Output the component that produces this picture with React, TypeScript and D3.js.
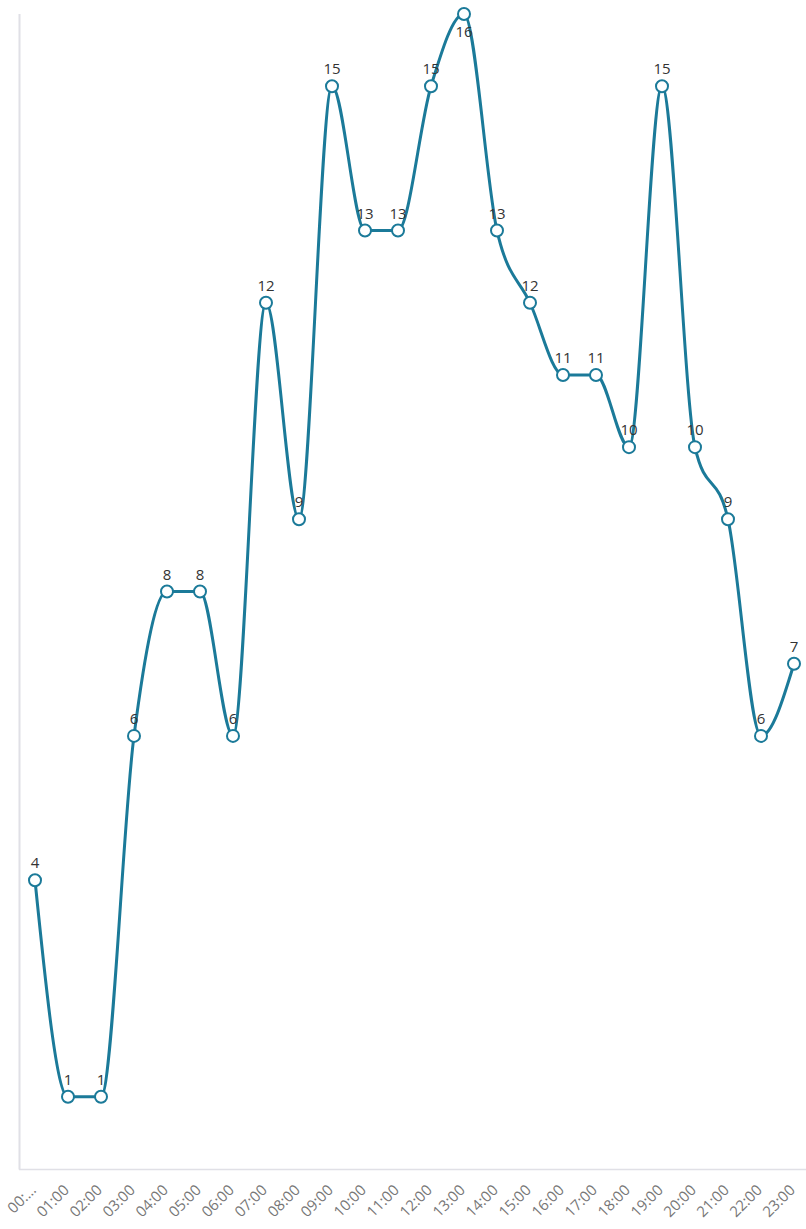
import React, { useEffect, useRef } from 'react';
import * as d3 from 'd3';

const hours = [
  '00:00', '01:00', '02:00', '03:00', '04:00', '05:00', '06:00', '07:00',
  '08:00', '09:00', '10:00', '11:00', '12:00', '13:00', '14:00', '15:00',
  '16:00', '17:00', '18:00', '19:00', '20:00', '21:00', '22:00', '23:00',
];
const tickLabels = ['00:…', ...hours.slice(1)];
const counts = [4, 1, 1, 6, 8, 8, 6, 12, 9, 15, 13, 13, 15, 16, 13, 12, 11, 11, 10, 15, 10, 9, 6, 7];

const WIDTH = 806;
const HEIGHT = 1229;
const LINE_COLOR = '#1b7a99';

const App: React.FC = () => {
  const svgRef = useRef<SVGSVGElement>(null);

  useEffect(() => {
    if (!svgRef.current) return;
    const svg = d3.select(svgRef.current);
    svg.selectAll('*').remove();

    const x = d3.scalePoint<string>().domain(hours).range([35, 794]);
    const y = d3.scaleLinear().domain([0, 16]).range([1169, 14]);

    // axes lines
    svg.append('line')
      .attr('x1', 19.5).attr('x2', 19.5)
      .attr('y1', 14).attr('y2', 1169.5)
      .attr('stroke', '#e0e0e6').attr('stroke-width', 2);
    svg.append('line')
      .attr('x1', 19).attr('x2', WIDTH)
      .attr('y1', 1169.5).attr('y2', 1169.5)
      .attr('stroke', '#e0e0e6').attr('stroke-width', 1.5);

    // tick labels
    svg.append('g')
      .selectAll('text')
      .data(hours)
      .join('text')
      .attr('transform', (d) => `translate(${x(d)! + 2},${1191}) rotate(-45)`)
      .attr('text-anchor', 'end')
      .attr('font-family', '"Open Sans", sans-serif')
      .attr('font-size', 15)
      .attr('fill', '#777')
      .text((_, i) => tickLabels[i]);

    const line = d3.line<number>()
      .x((_, i) => x(hours[i])!)
      .y((d) => y(d))
      .curve(d3.curveMonotoneX);

    svg.append('path')
      .datum(counts)
      .attr('d', line)
      .attr('fill', 'none')
      .attr('stroke', LINE_COLOR)
      .attr('stroke-width', 3);

    svg.append('g')
      .selectAll('circle')
      .data(counts)
      .join('circle')
      .attr('cx', (_, i) => x(hours[i])!)
      .attr('cy', (d) => y(d))
      .attr('r', 6)
      .attr('fill', '#fff')
      .attr('stroke', LINE_COLOR)
      .attr('stroke-width', 2);

    // value labels (pushed below when too close to the top)
    svg.append('g')
      .selectAll('text')
      .data(counts)
      .join('text')
      .attr('x', (_, i) => x(hours[i])!)
      .attr('y', (d) => (y(d) < 30 ? y(d) + 23 : y(d) - 12))
      .attr('text-anchor', 'middle')
      .attr('font-family', '"Open Sans", sans-serif')
      .attr('font-size', 15)
      .attr('fill', '#333')
      .text((d) => d);
  }, []);

  return (
    <svg
      ref={svgRef}
      width={WIDTH}
      height={HEIGHT}
      style={{ position: 'absolute', left: 0, top: 0, background: '#fff' }}
    />
  );
};

export default App;
